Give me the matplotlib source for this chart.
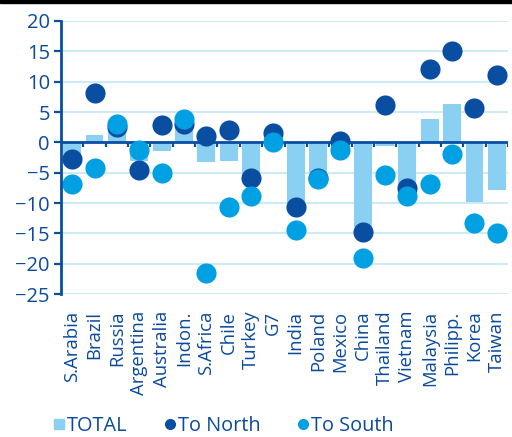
import matplotlib.pyplot as plt
from matplotlib.lines import Line2D
from matplotlib.patches import Rectangle
import numpy as np

countries = ['S.Arabia', 'Brazil', 'Russia', 'Argentina', 'Australia', 'Indon.',
             'S.Africa', 'Chile', 'Turkey', 'G7', 'India', 'Poland', 'Mexico',
             'China', 'Thailand', 'Vietnam', 'Malaysia', 'Philipp.', 'Korea', 'Taiwan']
total = [-3.0, 1.2, 2.5, -3.0, -1.5, 3.0, -3.3, -3.1, -5.5, 0.5, -10.0, -5.0,
         -0.8, -14.0, -0.6, -7.5, 3.9, 6.4, -9.9, -7.8]
to_north = [-2.8, 8.1, 2.6, -4.6, 2.9, 3.0, 1.0, 2.0, -5.8, 1.5, -10.7, -5.8,
            0.2, -14.8, 6.2, -7.6, 12.1, 15.1, 5.6, 11.1]
to_south = [-6.8, -4.3, 3.1, -1.2, -5.1, 3.8, -21.5, -10.6, -8.8, 0.1, -14.5, -6.0,
            -1.2, -19.0, -5.4, -8.8, -6.9, -2.0, -13.3, -14.9]
yticks = [20, 15, 10, 5, 0, -5, -10, -15, -20, -25]

DARK = '#0a4ea2'
LIGHT = '#00a0e2'
BAR = '#89d0f2'
GRID = '#c8e8f8'
TEXT = '#0b4a9c'

plt.rcParams['font.family'] = ['Open Sans', 'DejaVu Sans']

fig = plt.figure(figsize=(5.12, 4.37), dpi=100)
ax = fig.add_axes([61 / 512, 1 - 294 / 437, 447 / 512, 273 / 437])

x = np.arange(len(countries))
ax.bar(x, total, width=0.8, color=BAR, zorder=2)
ax.scatter(x, to_north, s=210, color=DARK, linewidths=0, zorder=4)
ax.scatter(x, to_south, s=210, color=LIGHT, linewidths=0, zorder=5)

ax.set_xlim(-0.5, len(countries) - 0.5)
ax.set_ylim(-25, 20)
ax.set_yticks(yticks)
ax.tick_params(axis='y', direction='out', length=5, width=1.6, color=DARK,
               labelcolor=TEXT, labelsize=14.5, pad=3)
ax.set_xticks(x)
ax.set_xticklabels(countries, rotation=90, color=TEXT, fontsize=13.3)
ax.tick_params(axis='x', length=0, pad=12)

for v in yticks:
    ax.axhline(v, color=GRID, lw=1.3, zorder=1)

# zero line with small ticks between categories
ax.axhline(0, color=DARK, lw=2, zorder=3)
ax.vlines(np.arange(0.5, len(countries)), -0.7, 0, color=DARK, lw=1.6, zorder=3)

for side in ['top', 'right', 'bottom']:
    ax.spines[side].set_visible(False)
ax.spines['left'].set_color(DARK)
ax.spines['left'].set_linewidth(2)
ax.spines['left'].set_zorder(6)

handles = [
    Line2D([], [], ls='none', marker='s', ms=7, color=BAR),
    Line2D([], [], ls='none', marker='o', ms=7, color=DARK),
    Line2D([], [], ls='none', marker='o', ms=7, color=LIGHT),
]
leg = fig.legend(handles, ['TOTAL', 'To North', 'To South'], ncol=3,
                 loc='center left', bbox_to_anchor=(36 / 512, 1 - 426 / 437),
                 frameon=False, fontsize=14.3, handlelength=0.5,
                 handletextpad=0.15, columnspacing=1.9)
for t in leg.get_texts():
    t.set_color(TEXT)

fig.patches.append(Rectangle((0, 1 - 3 / 437), 1, 3 / 437, transform=fig.transFigure,
                             color='black', zorder=10))

fig.savefig('out.png', dpi=100)
